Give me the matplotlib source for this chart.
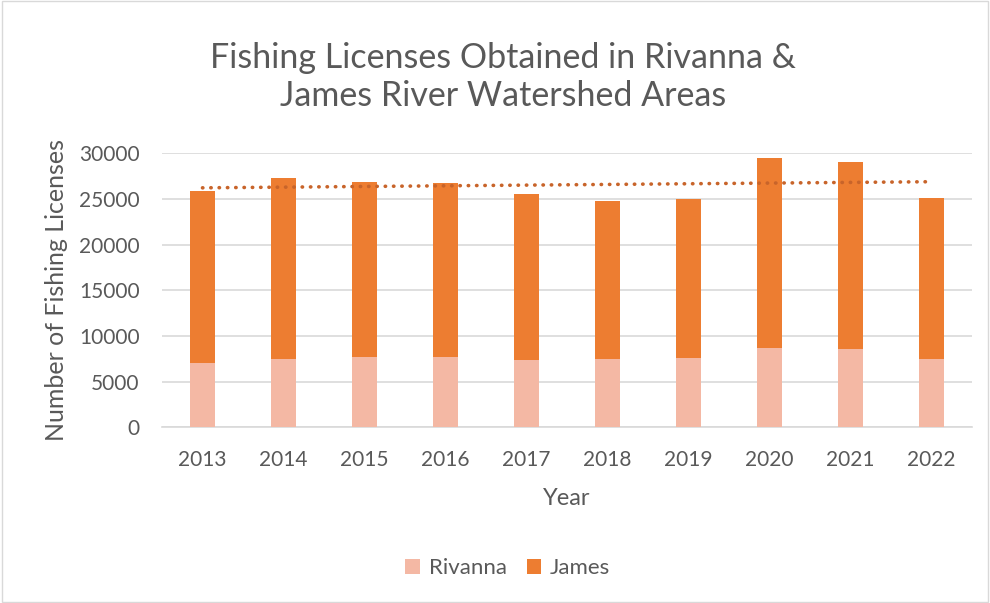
import numpy as np
import matplotlib.pyplot as plt
from matplotlib.patches import Rectangle

years = ["2013", "2014", "2015", "2016", "2017", "2018", "2019", "2020", "2021", "2022"]
rivanna = [7080, 7480, 7740, 7740, 7370, 7450, 7630, 8690, 8580, 7480]
totals = [25880, 27300, 26820, 26720, 25510, 24740, 24960, 29490, 29050, 25070]
james = [t - r for t, r in zip(totals, rivanna)]

text_color = "#595959"
plt.rcParams["font.family"] = ["Lato", "DejaVu Sans"]

fig = plt.figure(figsize=(9.9, 6.03), dpi=100)
ax = fig.add_axes([162 / 990, 1 - 427.3 / 603, 810 / 990, 274 / 603])

x = np.arange(len(years))
ax.bar(x, rivanna, width=0.31, color="#F4B8A4", label="Rivanna", zorder=3)
ax.bar(x, james, width=0.31, bottom=rivanna, color="#ED7D31", label="James", zorder=3)

# linear trend line of the totals
slope, intercept = np.polyfit(x, totals, 1)
ax.plot(x, slope * x + intercept, linestyle=(0, (0.1, 2.2)), dash_capstyle="round",
        color="#C8642A", linewidth=2.6, zorder=4)

ax.set_xlim(-0.5, len(years) - 0.5)
ax.set_ylim(0, 30000)
ax.set_yticks(range(0, 30001, 5000))
ax.set_xticks(x)
ax.set_xticklabels(years)
ax.yaxis.grid(True, color="#D9D9D9", linewidth=1.2, zorder=0)
ax.set_axisbelow(True)
for side in ["top", "right", "left"]:
    ax.spines[side].set_visible(False)
ax.spines["bottom"].set_color("#D9D9D9")
ax.spines["bottom"].set_linewidth(1.2)
ax.tick_params(axis="both", length=0, labelsize=15, labelcolor=text_color)
ax.tick_params(axis="x", pad=16)
ax.tick_params(axis="y", pad=16)

ax.set_xlabel("Year", fontsize=17, color=text_color, labelpad=13)
ax.set_ylabel("Number of Fishing Licenses", fontsize=18, color=text_color, labelpad=8)

fig.text(0.508, 1 - 77 / 603, "Fishing Licenses Obtained in Rivanna &\nJames River Watershed Areas",
         ha="center", va="center", fontsize=24.5, color=text_color, linespacing=1.24)

fig.legend(loc="center", bbox_to_anchor=(0.513, 1 - 568 / 603), ncol=2, frameon=False,
           fontsize=16, labelcolor=text_color, handlelength=0.65, handleheight=0.65,
           handletextpad=0.4, columnspacing=0.9)

fig.patches.append(Rectangle((0.002, 0.002), 0.996, 0.996, transform=fig.transFigure,
                             fill=False, edgecolor="#D9D9D9", linewidth=1))

fig.savefig("out.png", dpi=100)
